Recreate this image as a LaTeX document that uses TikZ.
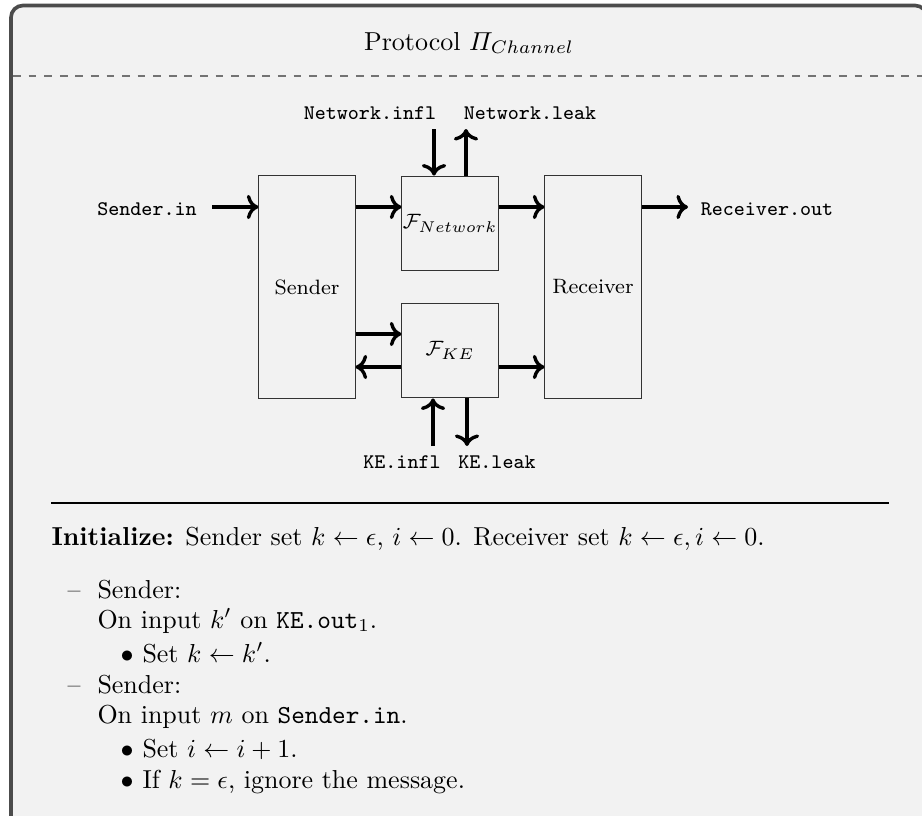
\documentclass[tikz,border=0pt]{standalone}
\usepackage{amsmath}
\usepackage{amssymb}
\usepackage{xcolor}
\usetikzlibrary{arrows.meta}

\begin{document}
\begin{tikzpicture}[x=0.385pt,y=-0.385pt,
  blk/.style={draw=black!80,line width=0.4pt,inner sep=0pt,
              minimum width=37pt,font=\footnotesize},
  flow/.style={->,line width=1.3pt},
  port/.style={font=\footnotesize\ttfamily,inner sep=0pt,anchor=base},
  txt/.style={anchor=base west,inner sep=0pt}]
  \useasboundingbox (0,0) rectangle (922,815);
  \clip (0,0) rectangle (922,815);
  % frame and title
  \draw[black!70,fill=gray!10,line width=1.4pt,rounded corners=4.6pt]
    (11,840) -- (11,5.5) -- (927,5.5) -- (927,840);
  \node[anchor=base] (title) at (469,50) {Protocol $\varPi_{Channel}$};
  \draw[black!55,dashed,line width=0.4pt] (13,76) -- (925,76);

  % boxes
  \node[blk,minimum height=85.5pt] (sender) at (307,287) {Sender};
  \node[blk,minimum height=36.5pt] (fnet) at (450,223.5) {$\mathcal{F}_{Network}$};
  \node[blk,minimum height=36.5pt] (fke) at (450,350.5) {$\mathcal{F}_{KE}$};
  \node[blk,minimum height=85.5pt] (receiver) at (593,287) {Receiver};

  % ports
  \node[port] (sin) at (147,215) {Sender.in};
  \node[port] (rout) at (767,215) {Receiver.out};
  \node[port] (ninfl) at (370,119) {Network.infl};
  \node[port] (nleak) at (530,119) {Network.leak};
  \node[port] (kinfl) at (402,468) {KE.infl};
  \node[port] (kleak) at (497,468) {KE.leak};
  \coordinate (sinEnd) at (212,207);
  \coordinate (routEnd) at (688,207);
  \coordinate (ninflEnd) at (434,129);
  \coordinate (nleakEnd) at (466,129);
  \coordinate (kinflEnd) at (433,446);
  \coordinate (kleakEnd) at (467,446);

  % arrows
  \draw[flow] (sinEnd) -- (sinEnd -| sender.west);
  \draw[flow] (sender.east |- sinEnd) -- (fnet.west |- sinEnd);
  \draw[flow] (fnet.east |- sinEnd) -- (receiver.west |- sinEnd);
  \draw[flow] (receiver.east |- sinEnd) -- (routEnd);
  \draw[flow] ([yshift=6.35pt]sender.east |- fke.west) -- ([yshift=6.35pt]fke.west);
  \draw[flow] ([yshift=-6.35pt]fke.west) -- ([yshift=-6.35pt]sender.east |- fke.west);
  \draw[flow] ([yshift=-6.35pt]fke.east) -- ([yshift=-6.35pt]receiver.west |- fke.east);
  \draw[flow] (ninflEnd) -- (ninflEnd |- fnet.north);
  \draw[flow] (nleakEnd |- fnet.north) -- (nleakEnd);
  \draw[flow] (kinflEnd) -- (kinflEnd |- fke.south);
  \draw[flow] (kleakEnd |- fke.south) -- (kleakEnd);

  % protocol text
  \draw[black,line width=0.4pt] (51,503) -- (889,503);
  \node[txt] (init) at (51,545) {\textbf{Initialize:} Sender set $k \leftarrow \epsilon$, $i \leftarrow 0$. Receiver set $k \leftarrow \epsilon, i \leftarrow 0$.};
  \node[txt] (dash1) at (67,598) {--};
  \node[txt] (who1) at (97,598) {Sender:};
  \node[txt] (on1) at (97,628) {On input $k'$ on \texttt{KE.out}$_1$.};
  \node[txt] (dot1) at (120,662) {$\bullet$};
  \node[txt] (do1) at (142,662) {Set $k \leftarrow k'$.};
  \node[txt] (dash2) at (67,693) {--};
  \node[txt] (who2) at (97,693) {Sender:};
  \node[txt] (on2) at (97,723) {On input $m$ on \texttt{Sender.in}.};
  \node[txt] (dot2) at (120,757) {$\bullet$};
  \node[txt] (do2) at (142,757) {Set $i \leftarrow i+1$.};
  \node[txt] (dot3) at (120,788) {$\bullet$};
  \node[txt] (do3) at (142,788) {If $k = \epsilon$, ignore the message.};
\end{tikzpicture}
\end{document}
